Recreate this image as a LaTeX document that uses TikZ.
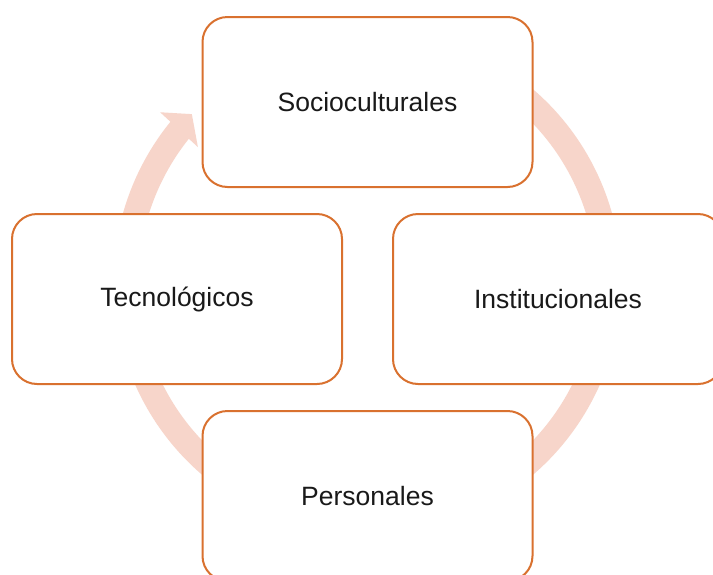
\documentclass[tikz,border=0pt]{standalone}
\usepackage{fontspec}
\setmainfont{Liberation Sans}
\usetikzlibrary{calc}
\definecolor{boxorange}{RGB}{217,113,47}
\definecolor{ringpink}{RGB}{247,213,202}
\begin{document}
\begin{tikzpicture}[x=1pt,y=1pt,
  item/.style={draw=boxorange, line width=2pt, fill=white, rounded corners=25pt,
    minimum width=330pt, minimum height=170pt, inner sep=0pt,
    font=\fontsize{26.5}{32}\selectfont, text=black!90},
  ring/.style={draw=ringpink, line width=25pt}]
\useasboundingbox (0,0) rectangle (713,-574);
\clip (0,0) rectangle (713,-574);
\fill[white] (0,0) rectangle (713,-574);
\coordinate (C) at (367.5,-282);
\draw[ring] ($(C)+(60:241.5)$) arc[start angle=60, end angle=-219.5, radius=241.5];
\fill[ringpink] ($(C)+(141.5:216.7)$) -- ($(C)+(140.7:268)$) -- ($(C)+(136.3:243)$) -- cycle;
\node[item] (soc) at (367.5,-102) {Socioculturales};
\node[item] (tec) at (177,-299) {Tecnológicos};
\node[item] (ins) at (558,-299) {Institucionales};
\node[item] (per) at (367.5,-496) {Personales};
\end{tikzpicture}
\end{document}
